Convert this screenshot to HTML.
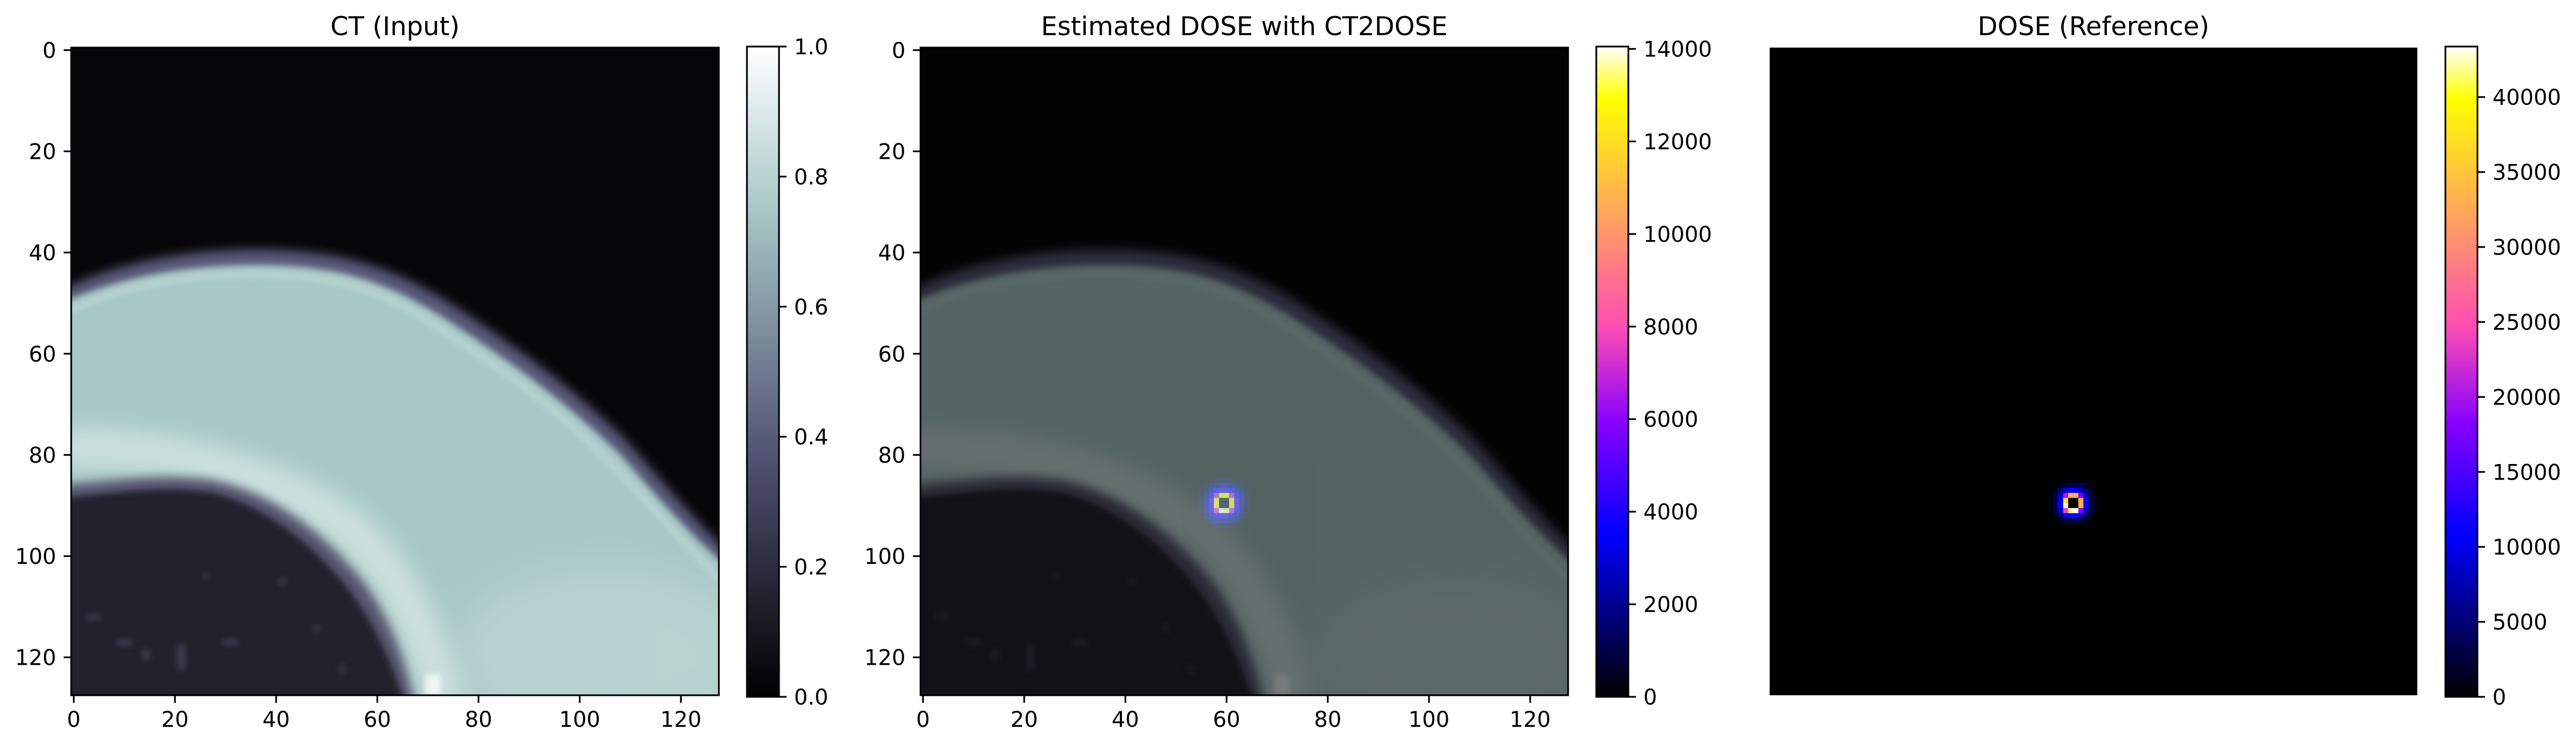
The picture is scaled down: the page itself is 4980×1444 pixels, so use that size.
<!DOCTYPE html>
<html><head><meta charset="utf-8"><style>
html,body{margin:0;padding:0;background:#fff;}
svg{display:block;font-family:"DejaVu Sans","Liberation Sans",sans-serif;}
</style></head><body>
<svg id="fig" xmlns="http://www.w3.org/2000/svg" width="4980" height="1444" viewBox="0 0 4980 1444">
<defs>
<filter id="b06" x="-20%" y="-20%" width="140%" height="140%"><feGaussianBlur stdDeviation="0.6"/></filter>
<filter id="b1" x="-20%" y="-20%" width="140%" height="140%"><feGaussianBlur stdDeviation="1.0"/></filter>
<filter id="b2" x="-20%" y="-20%" width="140%" height="140%"><feGaussianBlur stdDeviation="2"/></filter>
<filter id="b4" x="-30%" y="-30%" width="160%" height="160%"><feGaussianBlur stdDeviation="4"/></filter>
<linearGradient id="boneGrad" x1="0" y1="1" x2="0" y2="0">
<stop offset="0" stop-color="#000000"/><stop offset="0.365" stop-color="#515171"/><stop offset="0.746" stop-color="#a6c6c6"/><stop offset="1" stop-color="#ffffff"/>
</linearGradient>
<linearGradient id="gnuGrad" x1="0" y1="1" x2="0" y2="0">
<stop offset="0" stop-color="#000000"/><stop offset="0.25" stop-color="#0000ff"/><stop offset="0.42" stop-color="#8700ff"/><stop offset="0.57" stop-color="#ff4db3"/><stop offset="0.92" stop-color="#ffff00"/><stop offset="1" stop-color="#ffffff"/>
</linearGradient>
<symbol id="ctImage" viewBox="0 0 128 128" preserveAspectRatio="none">
<rect x="0" y="0" width="128" height="128" fill="#060609"/>
<path d="M-2,48 C8,43 22,39.5 40,40 C55,40.5 64,44 74,50 C88,59 100,68 110,78 C117,86 123,93 130,100 L130,130 L-2,130 Z" fill="#5a5a7a" filter="url(#b1)"/>
<path d="M-2,50.5 C8,46 22,42.5 40,43 C55,43.5 63,47 73,53 C87,62 99,71 109,81 C116,89 122,96 130,103 L130,130 L-2,130 Z" fill="#a7c8c6" filter="url(#b06)"/>
<path d="M0,52 C10,47 24,44.5 40,45 C55,45.5 63,49 72,55 C86,64 98,73 107.5,83 C115,91 121,98 128,105" fill="none" stroke="#c2dad8" stroke-width="1.1" opacity="0.7" filter="url(#b06)"/>
<ellipse cx="106" cy="120" rx="30" ry="17" fill="#bfd7d5" opacity="0.7" filter="url(#b4)"/>
<path d="M-2,79 C20,79 40,84 55,95 C65,104 70,115 74,130" fill="none" stroke="#cbe0de" stroke-width="8" filter="url(#b2)"/>
<path d="M-2,86.5 C10,85.5 18,84 28,85.5 C40,88 50,96 58,106 C63,113 66,121 68,130 L-2,130 Z" fill="#56556e" filter="url(#b1)"/>
<path d="M-2,89 C10,88 18,86.5 28,88 C38,90.5 48,98 55.5,108 C60.5,115 63.5,122 66,130 L-2,130 Z" fill="#21212d" filter="url(#b06)"/>
<rect x="70" y="124" width="3" height="4" fill="#f0f6f6" filter="url(#b06)"/>
<g fill="#4a4a62" opacity="0.7" filter="url(#b06)">
<rect x="21" y="118" width="1.5" height="5"/><rect x="9" y="117" width="3" height="1.2"/><rect x="30" y="117" width="3" height="1"/><rect x="3" y="112" width="3" height="1"/><rect x="48" y="114" width="1" height="1.5"/><rect x="26" y="104" width="1" height="1"/><rect x="41" y="105" width="1.5" height="1"/><rect x="14" y="119" width="1.5" height="2"/><rect x="53" y="122" width="1" height="1.5"/>
</g>
</symbol>
</defs>
</svg>
<script>
const NS = 'http://www.w3.org/2000/svg';
const svg = document.getElementById('fig');

// ---- data ----
const gridSize = 128;
const axisTicks = [0, 20, 40, 60, 80, 100, 120];
const ctCbarTicks = [0, 0.2, 0.4, 0.6, 0.8, 1.0];
const ctCbarLabels = ['0.0', '0.2', '0.4', '0.6', '0.8', '1.0'];
const ctRange = [0, 1];
const estCbarTicks = [0, 2000, 4000, 6000, 8000, 10000, 12000, 14000];
const estRange = [0, 14050];
const refCbarTicks = [0, 5000, 10000, 15000, 20000, 25000, 30000, 35000, 40000];
const refRange = [0, 43370];
const panelTitles = ['CT (Input)', 'Estimated DOSE with CT2DOSE', 'DOSE (Reference)'];
const doseRowStart = 85;
const doseColStart = 55;
const estDose = [
 [0,0,300,500,600,600,500,300,0,0],
 [0,400,1000,1600,2000,2000,1600,1000,400,0],
 [300,1000,2500,3500,4200,4200,3500,2500,1000,300],
 [500,1600,3800,6800,12800,12800,6800,3800,1600,500],
 [600,2000,4500,13000,300,300,12500,4500,2000,600],
 [600,2000,4500,13000,300,300,12500,4500,2000,600],
 [500,1600,3800,7500,14000,13500,7000,3800,1600,500],
 [300,1000,2800,3800,4200,4200,3500,2500,1000,300],
 [0,400,1200,1800,2000,2000,1600,1000,400,0],
 [0,0,400,600,700,700,500,300,0,0]
];
const refDose = [
 [0,0,300,500,600,600,500,300,0,0],
 [0,500,1500,2500,3000,3000,2500,1500,500,0],
 [300,1500,4500,8000,11000,11000,8000,4500,1500,300],
 [500,2500,8500,20000,33000,33000,17000,8000,2500,500],
 [600,3000,11000,37000,0,0,33000,11500,3000,600],
 [600,3000,11000,43000,0,0,33000,11500,3000,600],
 [500,2500,8500,24000,42000,43000,18000,8000,2500,500],
 [300,1500,4500,9000,11500,11500,8000,4500,1500,300],
 [0,500,1500,2500,3000,3000,2500,1500,500,0],
 [0,0,300,500,600,600,500,300,0,0]
];

// ---- layout ----
const panelLeft = [137.7, 1779.5, 3421.2];
const axTop = 92, axSize = 1252;
const cell = axSize / gridSize;
const cbarX = [1444, 3086, 4727.5], cbarW = 62, cbarTop = 90, cbarBot = 1347;

function xPos(p, v) { return panelLeft[p] + (v + 0.5) * cell; }
function yPos(v) { return axTop + (v + 0.5) * cell; }
function cbarY(v, range) { return cbarBot - (v - range[0]) / (range[1] - range[0]) * (cbarBot - cbarTop); }

function gnuplot2(t) {
  t = Math.max(0, Math.min(1, t));
  const r = Math.max(0, Math.min(1, t / 0.32 - 0.78125));
  const g = Math.max(0, Math.min(1, 2 * t - 0.84));
  let b;
  if (t < 0.25) b = 4 * t; else if (t < 0.42) b = 1; else if (t < 0.92) b = -2 * t + 1.84; else b = t / 0.08 - 11.5;
  b = Math.max(0, Math.min(1, b));
  return 'rgb(' + Math.round(r * 255) + ',' + Math.round(g * 255) + ',' + Math.round(b * 255) + ')';
}

function mk(tag, attrs, parent) {
  const e = document.createElementNS(NS, tag);
  for (const k in attrs) e.setAttribute(k, attrs[k]);
  (parent || svg).appendChild(e);
  return e;
}
function txt(s, x, y, size, anchor, parent) {
  const t = mk('text', {x: x, y: y, 'font-size': size, 'text-anchor': anchor, fill: '#000'}, parent);
  t.textContent = s;
  return t;
}

// titles
for (let p = 0; p < 3; p++) {
  const t = txt(panelTitles[p], panelLeft[p] + axSize / 2, 68, 50, 'middle');
  
  
}

// panel 1: CT
const ct1 = mk('use', {href: '#ctImage', x: panelLeft[0], y: axTop, width: axSize, height: axSize});



// panel 2: CT + overlay
const ct2 = mk('use', {href: '#ctImage', x: panelLeft[1], y: axTop, width: axSize, height: axSize});


const overlay = mk('g', {opacity: 0.5});


mk('rect', {x: panelLeft[1], y: axTop, width: axSize, height: axSize, fill: '#000'}, overlay);
function drawDose(group, p, data, range, name) {
  for (let r = 0; r < data.length; r++) {
    for (let c = 0; c < data[r].length; c++) {
      const v = data[r][c];
      const cx = xPos(p, doseColStart + c) - cell / 2;
      const cy = yPos(doseRowStart + r) - cell / 2;
      const rc = mk('rect', {x: cx, y: cy, width: cell + 0.3, height: cell + 0.3, fill: gnuplot2(v / range[1])}, group);
      
      
    }
  }
}
drawDose(overlay, 1, estDose, estRange, 'estimated-dose');

// panel 3: reference dose
const refG = mk('g', {});


mk('rect', {x: panelLeft[2], y: axTop, width: axSize, height: axSize, fill: '#000'}, refG);
drawDose(refG, 2, refDose, refRange, 'reference-dose');

// axes for panels 1,2
for (let p = 0; p < 2; p++) {
  const g = mk('g', {});
  
  
  mk('rect', {x: panelLeft[p], y: axTop, width: axSize, height: axSize, fill: 'none', stroke: '#000', 'stroke-width': 3.3}, g);
  axisTicks.forEach(function (v) {
    const x = xPos(p, v);
    mk('line', {x1: x, y1: axTop + axSize, x2: x, y2: axTop + axSize + 14.6, stroke: '#000', 'stroke-width': 3.3}, g);
    const xl = txt(String(v), x, 1405, 41.7, 'middle', g);
    
    
    const y = yPos(v);
    mk('line', {x1: panelLeft[p], y1: y, x2: panelLeft[p] - 14.6, y2: y, stroke: '#000', 'stroke-width': 3.3}, g);
    const yl = txt(String(v), panelLeft[p] - 29, y + 15, 41.7, 'end', g);
    
    
  });
}

// colorbars
function colorbar(i, grad, ticks, labels, range) {
  const g = mk('g', {});
  
  
  mk('rect', {x: cbarX[i], y: cbarTop, width: cbarW, height: cbarBot - cbarTop, fill: 'url(#' + grad + ')', stroke: '#000', 'stroke-width': 3.3}, g);
  ticks.forEach(function (v, k) {
    const y = cbarY(v, range);
    mk('line', {x1: cbarX[i] + cbarW, y1: y, x2: cbarX[i] + cbarW + 14.6, y2: y, stroke: '#000', 'stroke-width': 3.3}, g);
    const l = txt(labels[k], cbarX[i] + cbarW + 29, y + 15, 41.7, 'start', g);
    
    
  });
}
colorbar(0, 'boneGrad', ctCbarTicks, ctCbarLabels, ctRange);
colorbar(1, 'gnuGrad', estCbarTicks, estCbarTicks.map(String), estRange);
colorbar(2, 'gnuGrad', refCbarTicks, refCbarTicks.map(String), refRange);
</script>
</body></html>
